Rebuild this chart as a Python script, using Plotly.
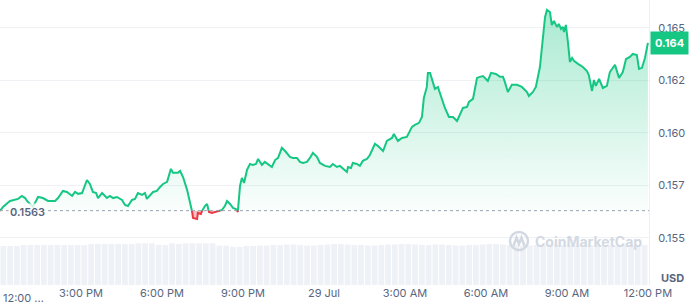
import pandas as pd
import plotly.graph_objects as go

# ---------------- data ----------------
start_time = "2024-07-28 12:00"
hours = [0, 0.11, 0.37, 0.67, 0.81, 0.93, 1.0, 1.22, 1.41, 1.59, 1.78, 2.04, 2.15, 2.33, 2.48, 2.67,
         2.78, 2.89, 3.04, 3.22, 3.33, 3.44, 3.56, 3.63, 3.78, 3.96, 4.07, 4.19, 4.33, 4.52, 4.63,
         4.74, 4.89, 5.0, 5.11, 5.26, 5.37, 5.44, 5.67, 5.81, 5.93, 6.04, 6.19, 6.33, 6.41, 6.59,
         6.67, 6.78, 6.93, 7.04, 7.11, 7.15, 7.30, 7.33, 7.44, 7.48, 7.59, 7.67, 7.74, 7.85, 7.96,
         8.07, 8.22, 8.33, 8.41, 8.52, 8.63, 8.74, 8.81, 8.89, 8.96, 9.04, 9.15, 9.26, 9.37, 9.48,
         9.56, 9.70, 9.81, 9.93, 10.07, 10.19, 10.30, 10.44, 10.56, 10.74, 10.85, 11.0, 11.11,
         11.22, 11.37, 11.48, 11.59, 11.74, 11.85, 12.04, 12.22, 12.33, 12.48, 12.59, 12.70,
         12.85, 12.89, 13.0, 13.07, 13.22, 13.33, 13.44, 13.59, 13.70, 13.89, 14.0, 14.19, 14.33,
         14.52, 14.59, 14.74, 14.89, 15.07, 15.26, 15.37, 15.52, 15.63, 15.70, 15.81, 15.85,
         15.93, 16.04, 16.11, 16.22, 16.37, 16.48, 16.63, 16.78, 16.93, 17.04, 17.15, 17.30,
         17.37, 17.52, 17.67, 17.78, 17.89, 18.07, 18.19, 18.37, 18.52, 18.63, 18.70, 18.81,
         18.96, 19.15, 19.33, 19.52, 19.59, 19.74, 19.85, 20.0, 20.11, 20.19, 20.26, 20.37,
         20.44, 20.52, 20.63, 20.70, 20.78, 20.85, 20.89, 20.96, 21.04, 21.11, 21.19, 21.26,
         21.41, 21.59, 21.74, 21.81, 21.93, 22.0, 22.07, 22.19, 22.33, 22.48, 22.59, 22.78,
         22.93, 23.07, 23.19, 23.33, 23.44, 23.59, 23.67, 23.78, 23.89, 24.0]
price = [0.15629, 0.15648, 0.15676, 0.15686, 0.15700, 0.15690, 0.15676, 0.15648, 0.15695, 0.15690,
         0.15676, 0.15676, 0.15690, 0.15724, 0.15719, 0.15700, 0.15719, 0.15710, 0.15714, 0.15776,
         0.15757, 0.15719, 0.15714, 0.15690, 0.15714, 0.15690, 0.15700, 0.15690, 0.15695, 0.15681,
         0.15657, 0.15652, 0.15681, 0.15686, 0.15714, 0.15705, 0.15714, 0.15686, 0.15719, 0.15724,
         0.15743, 0.15757, 0.15767, 0.15829, 0.15810, 0.15810, 0.15819, 0.15790, 0.15729, 0.15667,
         0.15629, 0.15595, 0.15590, 0.15619, 0.15614, 0.15628, 0.15652, 0.15662, 0.15624, 0.15619,
         0.15624, 0.15626, 0.15633, 0.15652, 0.15676, 0.15662, 0.15643, 0.15638, 0.15624, 0.15748,
         0.15786, 0.15762, 0.15824, 0.15852, 0.15848, 0.15852, 0.15876, 0.15848, 0.15862, 0.15852,
         0.15838, 0.15871, 0.15881, 0.15929, 0.15914, 0.15886, 0.15881, 0.15881, 0.15862, 0.15857,
         0.15862, 0.15881, 0.15905, 0.15886, 0.15857, 0.15843, 0.15838, 0.15852, 0.15838, 0.15843,
         0.15829, 0.15814, 0.15838, 0.15833, 0.15857, 0.15852, 0.15843, 0.15867, 0.15876, 0.15895,
         0.15948, 0.15938, 0.15914, 0.15962, 0.15976, 0.15995, 0.15962, 0.15976, 0.15981, 0.16029,
         0.16038, 0.16048, 0.16076, 0.16167, 0.16219, 0.16286, 0.16286, 0.16238, 0.16210, 0.16219,
         0.16157, 0.16119, 0.16076, 0.16076, 0.16057, 0.16086, 0.16119, 0.16124, 0.16148, 0.16162,
         0.16262, 0.16267, 0.16271, 0.16248, 0.16286, 0.16281, 0.16267, 0.16267, 0.16243, 0.16195,
         0.16229, 0.16229, 0.16219, 0.16195, 0.16176, 0.16195, 0.16219, 0.16314, 0.16443, 0.16552,
         0.16586, 0.16576, 0.16514, 0.16533, 0.16505, 0.16519, 0.16495, 0.16505, 0.16481, 0.16514,
         0.16429, 0.16338, 0.16357, 0.16343, 0.16329, 0.16314, 0.16295, 0.16276, 0.16200, 0.16252,
         0.16224, 0.16257, 0.16214, 0.16224, 0.16290, 0.16324, 0.16262, 0.16290, 0.16352, 0.16362,
         0.16376, 0.16371, 0.16305, 0.16310, 0.16357, 0.16429]
baseline_price = 0.1563
current_price_label = "0.164"

# volume (millions), 15-minute bins
volume = [3.90, 3.90, 3.90, 4.00, 4.00, 4.00, 4.00, 4.00, 4.00, 4.00, 4.00, 4.00, 4.00, 4.10,
          4.10, 4.10, 4.10, 4.10, 4.10, 4.10, 4.17, 4.17, 4.17, 4.00, 4.00, 4.17, 4.10, 4.17,
          4.17, 4.17, 4.17, 4.17, 3.93, 3.93, 3.83, 3.83, 3.90, 3.90, 3.95, 3.95, 4.00, 4.00,
          4.05, 4.05, 4.00, 3.95, 3.95, 4.00, 4.05, 4.10, 4.10, 4.05, 4.00, 4.00, 3.95, 3.95,
          4.00, 4.05, 4.05, 4.10, 4.10, 4.05, 4.00, 4.00, 4.05, 4.05, 4.00, 3.95, 3.95, 4.00,
          4.00, 4.05, 4.10, 4.10, 4.05, 4.00, 4.00, 3.95, 3.95, 4.00, 4.00, 4.05, 4.05, 4.00,
          4.00, 3.95, 3.95, 4.00, 4.00, 4.00, 3.95, 3.95, 4.00, 4.00, 4.00, 4.00]

price_ticks = [0.155, 0.1575, 0.16, 0.1625, 0.165]
price_tick_text = ["0.155", "0.157", "0.160", "0.162", "0.165"]
time_ticks = ["2024-07-28 15:00", "2024-07-28 18:00", "2024-07-28 21:00", "2024-07-29 00:00",
              "2024-07-29 03:00", "2024-07-29 06:00", "2024-07-29 09:00", "2024-07-29 12:00"]
time_tick_text = ["3:00 PM", "6:00 PM", "9:00 PM", "29 Jul", "3:00 AM", "6:00 AM", "9:00 AM", "12:00 PM"]

# ---------------- build ----------------
GREEN = "#16c784"
RED = "#ea3943"
GRAY_TXT = "#58667e"
FONT = "Inter"

t0 = pd.Timestamp(start_time)

# insert baseline crossings
hs, vs = [], []
for i in range(len(hours)):
    if i > 0:
        a, b = price[i - 1], price[i]
        if (a - baseline_price) * (b - baseline_price) < 0:
            f = (baseline_price - a) / (b - a)
            hs.append(hours[i - 1] + f * (hours[i] - hours[i - 1]))
            vs.append(baseline_price)
    hs.append(hours[i])
    vs.append(price[i])
times = [t0 + pd.Timedelta(hours=h) for h in hs]

green_line = [v if v >= baseline_price else None for v in vs]
red_line = [v if v <= baseline_price else None for v in vs]
green_fill = [max(v, baseline_price) for v in vs]
red_fill = [min(v, baseline_price) for v in vs]
base_vals = [baseline_price] * len(vs)

vol_times = [t0 + pd.Timedelta(minutes=15 * i + 7.5) for i in range(len(volume))]

fig = go.Figure()

fig.add_trace(go.Bar(x=vol_times, y=volume, yaxis="y2", marker_color="#eef1f5",
                     marker_line_width=0, hoverinfo="skip", showlegend=False))

fig.add_trace(go.Scatter(x=times, y=base_vals, mode="lines", line=dict(width=0),
                         hoverinfo="skip", showlegend=False))
fig.add_trace(go.Scatter(x=times, y=red_fill, mode="lines", line=dict(width=0), fill="tonexty",
                         fillcolor="rgba(234,57,67,0.32)", hoverinfo="skip", showlegend=False))
fig.add_trace(go.Scatter(x=times, y=base_vals, mode="lines", line=dict(width=0),
                         hoverinfo="skip", showlegend=False))
fig.add_trace(go.Scatter(x=times, y=green_fill, mode="lines", line=dict(width=0), fill="tonexty",
                         fillgradient=dict(type="vertical",
                                           colorscale=[[0, "rgba(22,199,132,0.02)"],
                                                       [1, "rgba(22,199,132,0.38)"]],
                                           start=baseline_price, stop=0.1663),
                         hoverinfo="skip", showlegend=False))
fig.add_trace(go.Scatter(x=times, y=green_line, mode="lines", line=dict(color=GREEN, width=2),
                         connectgaps=False, showlegend=False))
fig.add_trace(go.Scatter(x=times, y=red_line, mode="lines", line=dict(color=RED, width=2),
                         connectgaps=False, showlegend=False))

x_end = t0 + pd.Timedelta(hours=24.04)

fig.add_shape(type="line", xref="x", yref="y", x0=t0, x1=x_end, y0=baseline_price, y1=baseline_price,
              line=dict(color="#9aa3b1", width=1, dash="dot"), layer="above")

# baseline label
fig.add_annotation(xref="paper", yref="y", x=0.012, y=baseline_price, xanchor="left", yanchor="middle",
                   text="0.1563", showarrow=False, bgcolor="rgba(255,255,255,0.8)",
                   borderpad=1, yshift=-1, font=dict(family=FONT, size=11, color=GRAY_TXT, weight=600))
# current price badge
fig.add_annotation(xref="paper", yref="y", x=1.0, y=price[-1], xanchor="left", yanchor="middle",
                   text="<b>" + current_price_label + "</b>", showarrow=False, bgcolor=GREEN,
                   borderpad=4, xshift=1, font=dict(family=FONT, size=11, color="white"))
# USD
fig.add_annotation(xref="paper", yref="paper", x=1.0, y=0.025, xanchor="left", yanchor="middle",
                   text="<b>USD</b>", showarrow=False, xshift=10,
                   font=dict(family=FONT, size=11, color=GRAY_TXT))
# first truncated x label
fig.add_annotation(xref="paper", yref="paper", x=0.0, y=0, xanchor="left", yanchor="top",
                   text="12:00 ...", showarrow=False, xshift=1, yshift=-4,
                   font=dict(family=FONT, size=11, color=GRAY_TXT))
# watermark
fig.add_shape(type="circle", xref="paper", yref="paper", x0=(510 / 649), x1=(528 / 649),
              y0=1 - 250 / 285, y1=1 - 232 / 285, line=dict(color="#d3d9e3", width=2.5))
fig.add_shape(type="path", xref="paper", yref="paper",
              path=f"M {513.5/649} {1-246/285} L {516.5/649} {1-237.5/285} L {519/649} {1-244/285} "
                   f"L {521.5/649} {1-237.5/285} L {524.5/649} {1-246/285}",
              line=dict(color="#d3d9e3", width=2.5))
fig.add_annotation(xref="paper", yref="paper", x=533 / 649, y=1 - 241 / 285, xanchor="left",
                   yanchor="middle", text="<b>CoinMarketCap</b>", showarrow=False,
                   font=dict(family=FONT, size=14, color="#d3d9e3"))

fig.update_layout(
    width=699, height=308,
    margin=dict(l=0, r=50, t=0, b=23),
    paper_bgcolor="white", plot_bgcolor="white",
    bargap=0.15,
    font=dict(family=FONT, size=11, color=GRAY_TXT),
    xaxis=dict(range=[t0, x_end], tickvals=time_ticks, ticktext=time_tick_text, showgrid=False,
               zeroline=False, showline=False, ticks="", tickfont=dict(size=11, color=GRAY_TXT)),
    yaxis=dict(side="right", range=[0.15276, 0.16633], tickvals=price_ticks, ticktext=price_tick_text,
               showgrid=True, gridcolor="#eff1f4", gridwidth=1, zeroline=False, showline=True,
               linecolor="#eceff3", linewidth=1, ticks="", ticklabelstandoff=6,
               tickfont=dict(size=11, color=GRAY_TXT)),
    yaxis2=dict(overlaying="y", range=[0, 28.5], visible=False),
    showlegend=False,
)

fig.write_html("out.html")
